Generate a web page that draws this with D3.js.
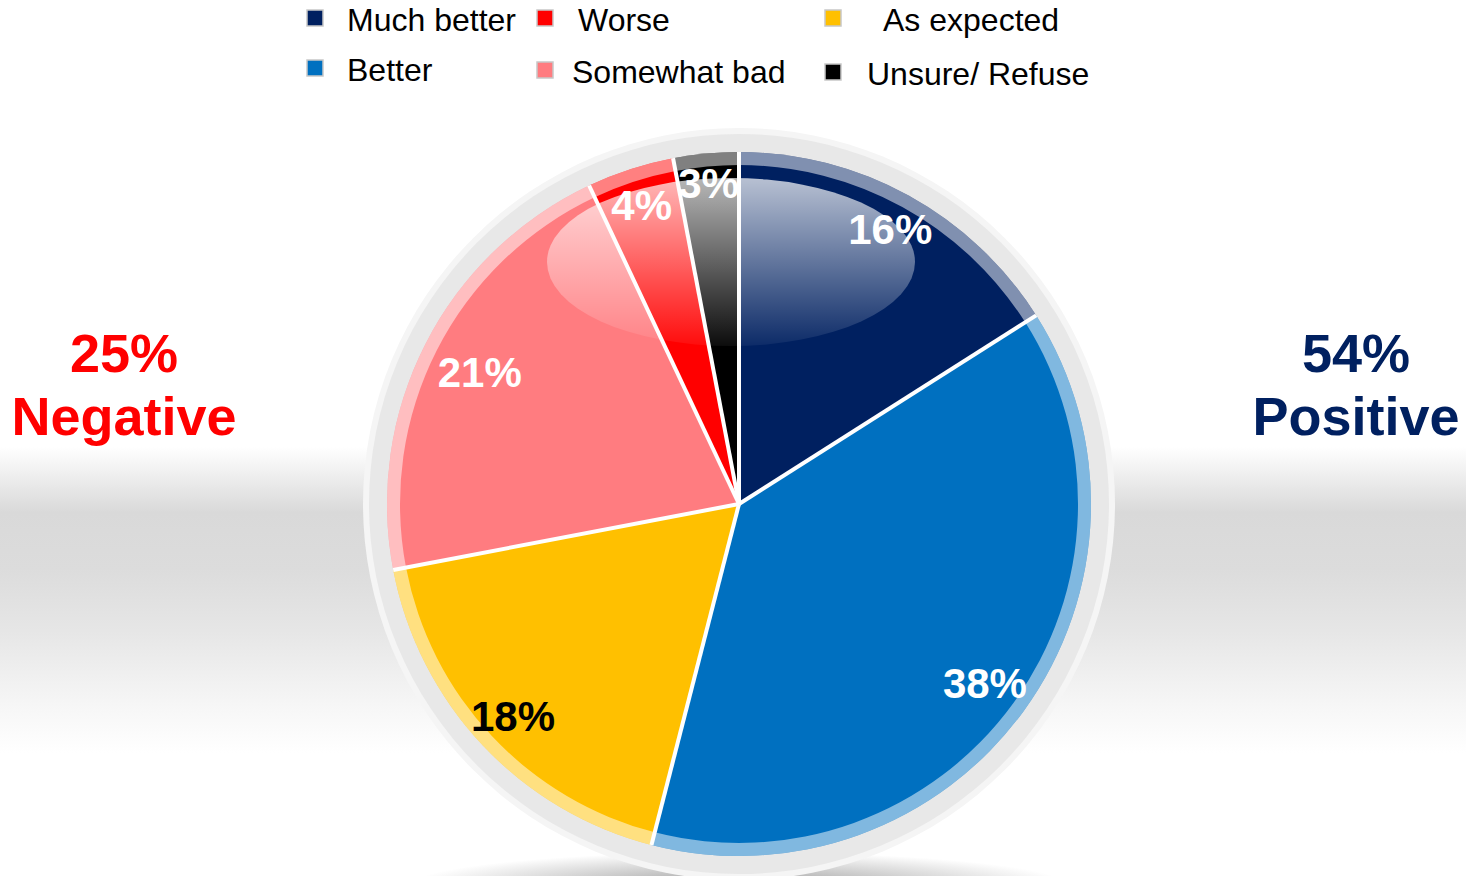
<!DOCTYPE html>
<html>
<head>
  <meta charset="utf-8">
  <title>Outcome vs expectation</title>
  <script src="https://d3js.org/d3.v7.min.js"></script>
  <style>
    body { margin: 0; background: #fff; }
    svg { display: block; font-family: "Liberation Sans", Arial, sans-serif; }
  </style>
</head>
<body>
  <div id="chart"></div>

  <script type="text/javascript">

    // data, clockwise from 12 o'clock
    var categories = ['Much better', 'Better', 'As expected', 'Somewhat bad', 'Worse', 'Unsure/ Refuse'];
    var values = [16, 38, 18, 21, 4, 3];
    var colors = ['#002060', '#0070C0', '#FFC000', '#FF7C80', '#FF0000', '#000000'];
    var labelColors = ['#fff', '#fff', '#000', '#fff', '#fff', '#fff'];

    // legend reads column by column
    var legendOrder = ['Much better', 'Better', 'Worse', 'Somewhat bad', 'As expected', 'Unsure/ Refuse'];

    var summaryLabels = ['25%', 'Negative', '54%', 'Positive'];

    var width = 1466, height = 876;
    var cx = 739, cy = 504;
    var radius = 352;

    // how far out each percentage sits (the original placed them by hand)
    var labelRadius = [314, 304, 310, 291, 315, 323];

    var svg = d3.select('#chart')
                .append('svg')
                  .attr('width', width)
                  .attr('height', height);

    var defs = svg.append('defs');

    // grey band behind the pie
    var bg = defs.append('linearGradient')
                 .attr('id', 'bg')
                 .attr('x1', 0).attr('y1', 0).attr('x2', 0).attr('y2', 1);
    [[0, '#ffffff'], [0.51, '#ffffff'], [0.585, '#d9d9d9'], [0.65, '#dcdcdc'],
     [0.72, '#e6e6e6'], [0.81, '#f7f7f7'], [0.86, '#ffffff'], [1, '#ffffff']].forEach(function(s) {
      bg.append('stop').attr('offset', s[0]).attr('stop-color', s[1]);
    });

    var shadow = defs.append('radialGradient').attr('id', 'shadow');
    shadow.append('stop').attr('offset', 0).attr('stop-color', '#777').attr('stop-opacity', 0.75);
    shadow.append('stop').attr('offset', 1).attr('stop-color', '#777').attr('stop-opacity', 0);

    var gloss = defs.append('linearGradient')
                    .attr('id', 'gloss')
                    .attr('x1', 0).attr('y1', 0).attr('x2', 0).attr('y2', 1);
    gloss.append('stop').attr('offset', 0).attr('stop-color', '#fff').attr('stop-opacity', 0.72);
    gloss.append('stop').attr('offset', 1).attr('stop-color', '#fff').attr('stop-opacity', 0.05);

    svg.append('rect')
       .attr('width', width)
       .attr('height', height)
       .attr('fill', 'url(#bg)');

    var g = svg.append('g')
               .attr('transform', 'translate(' + cx + ',' + cy + ')');

    // soft shadow under the disc
    g.append('ellipse')
     .attr('cx', 0).attr('cy', radius + 30)
     .attr('rx', 330).attr('ry', 34)
     .attr('fill', 'url(#shadow)');

    // grey bezel
    g.append('circle').attr('r', radius + 24).attr('fill', '#f5f5f5');
    g.append('circle').attr('r', radius + 18).attr('fill', '#e8e8e8');

    var pie = d3.pie().sort(null).value(function(d) { return d; });
    var arcs = pie(values);

    var arc = d3.arc().innerRadius(0).outerRadius(radius);
    var rim = d3.arc().innerRadius(radius - 13).outerRadius(radius);

    g.selectAll('path.slice')
     .data(arcs)
     .enter().append('path')
       .attr('class', 'slice')
       .attr('d', arc)
       .attr('fill', function(d, i) { return colors[i]; });

    g.selectAll('path.rim')
     .data(arcs)
     .enter().append('path')
       .attr('class', 'rim')
       .attr('d', rim)
       .attr('fill', '#fff')
       .attr('fill-opacity', 0.5);

    // white separators between slices
    g.selectAll('line.sep')
     .data(arcs)
     .enter().append('line')
       .attr('class', 'sep')
       .attr('x1', 0).attr('y1', 0)
       .attr('x2', function(d) { return d3.pointRadial(d.startAngle, radius)[0]; })
       .attr('y2', function(d) { return d3.pointRadial(d.startAngle, radius)[1]; })
       .attr('stroke', '#fff')
       .attr('stroke-width', 4);

    // glossy highlight
    g.append('ellipse')
     .attr('cx', -8).attr('cy', -242)
     .attr('rx', 184).attr('ry', 84)
     .attr('fill', 'url(#gloss)');

    // clip each label to its own slice
    arcs.forEach(function(d, i) {
      defs.append('clipPath')
          .attr('id', 'clip' + i)
        .append('path')
          .attr('d', arc(d))
          .attr('transform', 'translate(' + cx + ',' + cy + ')');
    });

    function labelPos(d, i) {
      return d3.arc().innerRadius(labelRadius[i]).outerRadius(labelRadius[i]).centroid(d);
    }

    svg.selectAll('text.pct')
       .data(arcs)
       .enter().append('text')
         .attr('class', 'pct')
         .attr('clip-path', function(d, i) { return 'url(#clip' + i + ')'; })
         .attr('x', function(d, i) { return cx + labelPos(d, i)[0]; })
         .attr('y', function(d, i) { return cy + labelPos(d, i)[1]; })
         .attr('dy', '0.36em')
         .attr('text-anchor', 'middle')
         .attr('font-size', 42)
         .attr('font-weight', 'bold')
         .attr('fill', function(d, i) { return labelColors[i]; })
         .text(function(d) { return d.value + '%'; });

    // legend: three columns of two
    var col = d3.scaleOrdinal().domain([0, 1, 2]).range([307, 537, 825]);
    var row = d3.scaleOrdinal().domain([0, 1]).range([10, 60]);
    var textX = [40, 40, 41, 35, 58, 42];
    var nudgeY = [0, 0, 0, 2, 0, 4];

    var legend = svg.selectAll('g.legend')
                    .data(legendOrder)
                    .enter().append('g')
                      .attr('class', 'legend')
                      .attr('transform', function(d, i) {
                        return 'translate(' + col(Math.floor(i / 2)) + ',' + (row(i % 2) + nudgeY[i]) + ')';
                      });

    legend.append('rect')
          .attr('width', 16)
          .attr('height', 16)
          .attr('fill', function(d) { return colors[categories.indexOf(d)]; })
          .attr('stroke', '#c8c8c8')
          .attr('stroke-width', 1.5);

    legend.append('text')
          .attr('x', function(d, i) { return textX[i]; })
          .attr('y', 21)
          .attr('font-size', 32)
          .attr('fill', '#000')
          .text(function(d) { return d; });

    // summary figures either side
    var summary = [
      {x: 124, color: '#FF0000', lines: summaryLabels.slice(0, 2)},
      {x: 1356, color: '#002060', lines: summaryLabels.slice(2, 4)}
    ];

    summary.forEach(function(s) {
      svg.selectAll(null)
         .data(s.lines)
         .enter().append('text')
           .attr('x', s.x)
           .attr('y', function(d, i) { return 372 + i * 63; })
           .attr('text-anchor', 'middle')
           .attr('font-size', 54)
           .attr('font-weight', 'bold')
           .attr('fill', s.color)
           .text(function(d) { return d; });
    });

  </script>
</body>
</html>
